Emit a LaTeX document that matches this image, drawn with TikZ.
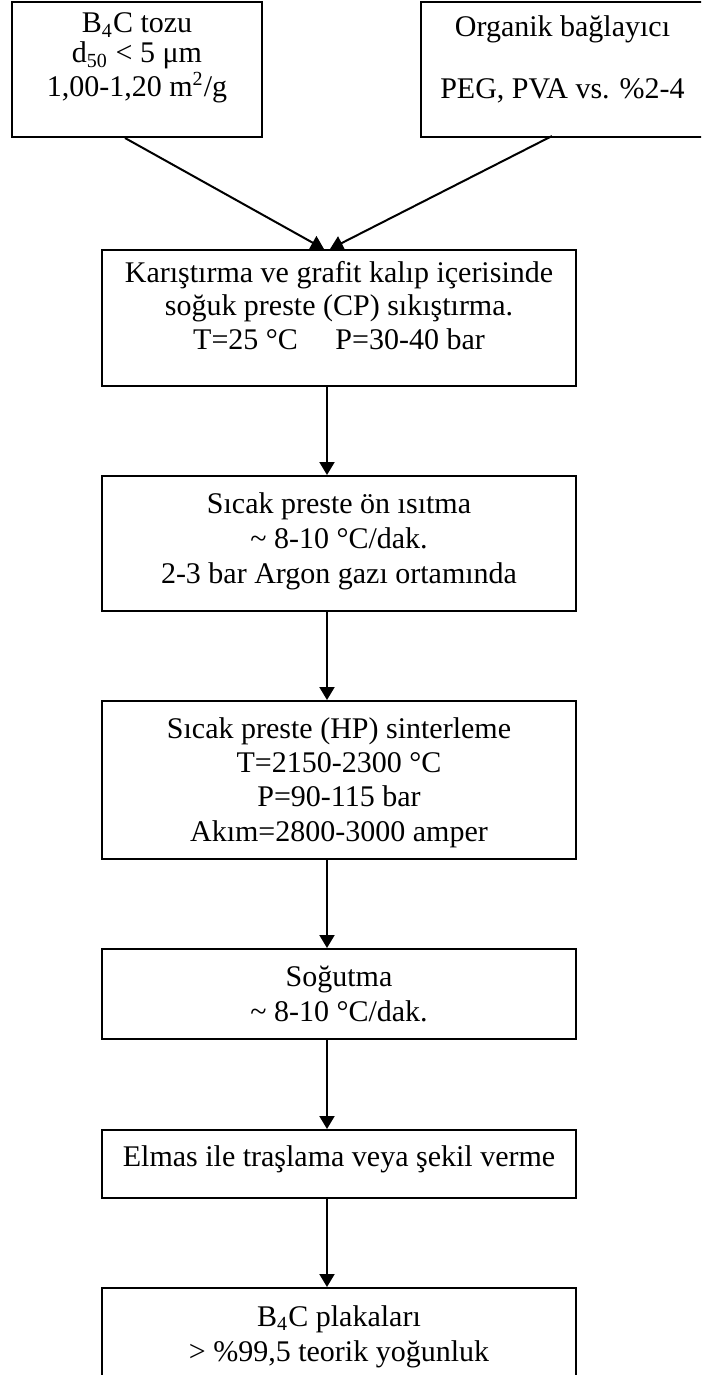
\documentclass[tikz,border=0pt]{standalone}
\usepackage{fontspec}
\setmainfont{Liberation Serif}
\usetikzlibrary{arrows.meta,calc}

\begin{document}
\begin{tikzpicture}[x=0.4pt,y=-0.4pt,
  box/.style={draw, line width=0.8pt, inner sep=0pt, anchor=north west, align=center},
  flow/.style={line width=0.8pt, -{Triangle[length=5.2pt,width=6pt]}}]
\useasboundingbox (0,0) rectangle (701,1375);
\clip (0,0) rectangle (701,1375);

% raw material boxes (text height = top edge to last baseline)
\node[box, minimum width=100pt, text height=37.6pt, text depth=16.4pt,
      font=\fontsize{12}{12}\selectfont] (b1) at (11,1)
  {B\textsubscript{4}C tozu\\d\textsubscript{50} < 5 μm\\1,00-1,20 m\textsuperscript{2}/g};
\node[box, minimum width=113.2pt, text height=38.4pt, text depth=15.6pt,
      font=\fontsize{12}{12}\selectfont] (b2) at (420,1)
  {Organik bağlayıcı\\[12.8pt]PEG, PVA vs. \%2-4};

% process steps
\node[box, minimum width=189.6pt, text height=39.6pt, text depth=14.8pt,
      font=\fontsize{12}{13.4}\selectfont] (b3) at (101,249)
  {Karıştırma ve grafit kalıp içerisinde\\soğuk preste (CP) sıkıştırma.\\T=25 °C\hspace{15pt}P=30-40 bar};
\node[box, minimum width=189.6pt, text height=42.8pt, text depth=11.2pt,
      font=\fontsize{12}{14}\selectfont] (b4) at (101,475)
  {Sıcak preste ön ısıtma\\\textasciitilde{} 8-10 °C/dak.\\2-3 bar Argon gazı ortamında};
\node[box, minimum width=189.6pt, text height=56pt, text depth=7.2pt,
      font=\fontsize{12}{13.7}\selectfont] (b5) at (101,700)
  {Sıcak preste (HP) sinterleme\\T=2150-2300 °C\\P=90-115 bar\\Akım=2800-3000 amper};
\node[box, minimum width=189.6pt, text height=28.8pt, text depth=7.2pt,
      font=\fontsize{12}{14}\selectfont] (b6) at (101,948)
  {Soğutma\\\textasciitilde{} 8-10 °C/dak.};
\node[box, minimum width=189.6pt, text height=14.4pt, text depth=12.8pt,
      font=\fontsize{12}{14}\selectfont] (b7) at (101,1129)
  {Elmas ile traşlama veya şekil verme};
\node[box, minimum width=189.6pt, text height=29.2pt, text depth=10pt,
      font=\fontsize{12}{14}\selectfont] (b8) at (101,1287)
  {B\textsubscript{4}C plakaları\\> \%99,5 teorik yoğunluk};

% connectors
\coordinate (spine) at (327,0);
\coordinate (s1) at ($(b1.south)+(-12,0)$);
\coordinate (s2) at (552,136);
\coordinate (t1) at ($(b3.north -| spine)+(-3,0)$);
\coordinate (t2) at ($(b3.north -| spine)+(3,0)$);
\draw[flow] (s1) -- (t1);
\draw[flow] (s2) -- (t2);
\draw[flow] (b3.south -| spine) -- (b4.north -| spine);
\draw[flow] (b4.south -| spine) -- (b5.north -| spine);
\draw[flow] (b5.south -| spine) -- (b6.north -| spine);
\draw[flow] (b6.south -| spine) -- (b7.north -| spine);
\draw[flow] (b7.south -| spine) -- (b8.north -| spine);
\end{tikzpicture}
\end{document}
